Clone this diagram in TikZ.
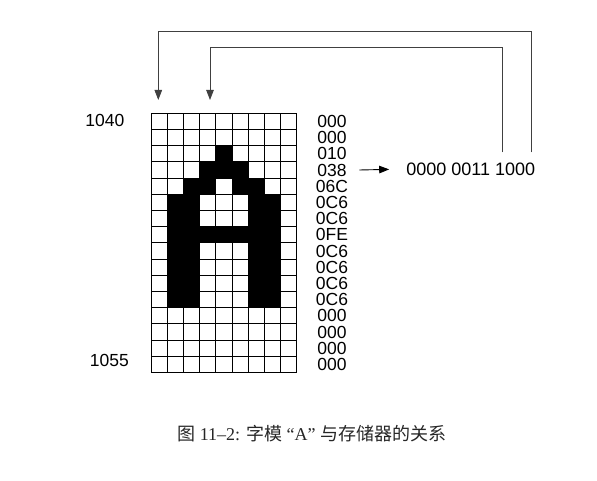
\documentclass[tikz,border=0pt]{standalone}
\usepackage{fontspec}
\setmainfont{Liberation Serif}
\newfontfamily\helv{Liberation Sans}
\newfontfamily\cjk{Noto Sans CJK SC}
\usepackage{tikz}
\usetikzlibrary{arrows.meta, positioning, calc}

\begin{document}
\begin{tikzpicture}[x=1pt, y=1pt]
\tikzstyle{hex} = [inner sep=0pt, font=\helv\fontsize{17.5}{18}\selectfont]
\tikzstyle{addr} = [inner sep=0pt, anchor=east, font=\helv\fontsize{17.5}{18}\selectfont]
\tikzstyle{arrow} = [line width=0.9pt, -{Triangle[length=10pt, width=7.5pt]}]
\tikzstyle{link} = [line width=0.9pt, draw=black!75, -{Triangle[length=10pt, width=7.5pt]}]
\tikzstyle{gridline} = [line width=1pt, draw=black]
\useasboundingbox (0,0) rectangle (597,480);

% Glyph pixels
\foreach \r/\c in {2/4, 3/3, 3/4, 3/5, 4/2, 4/3, 4/5, 4/6,
  5/1, 5/2, 5/6, 5/7, 6/1, 6/2, 6/6, 6/7,
  7/1, 7/2, 7/3, 7/4, 7/5, 7/6, 7/7,
  8/1, 8/2, 8/6, 8/7, 9/1, 9/2, 9/6, 9/7,
  10/1, 10/2, 10/6, 10/7, 11/1, 11/2, 11/6, 11/7}
  \fill ({151+\c*16.2},{366.7-\r*16.2}) rectangle ++(16.2,-16.2);

% Grid
\draw[gridline, shift={(151,107.5)}] (0,0) grid[step=16.2pt] (145.8,259.2);

% Addresses
\node[addr] (first) at (124.5,359.3) {1040};
\node[addr] (last) at (129,119.3) {1055};

% Row values
\foreach \v [count=\i from 0] in {000,000,010,038,06C,0C6,0C6,0FE,0C6,0C6,0C6,0C6,000,000,000,000}
  \node[hex] (h\i) at (332,{358.6-\i*16.2}) {\v};

% Binary value
\node[hex, font=\helv\fontsize{18}{18}\selectfont] (word) at (470.8,311) {0000 0011 1000};
\draw[arrow, shorten >=17pt] ([xshift=12.6pt]h3.east) -- (word.west);

% Feedback lines
\coordinate (tipA) at (158.3,380);
\coordinate (tipB) at (210,380);
\coordinate (outA) at ($(word.north east)+(-4,10)$);
\coordinate (outB) at ($(word.north east)+(-33.4,10)$);
\draw[link] (outA) -- ++(0,121.3) -| (tipA);
\draw[link] (outB) -- ++(0,104.7) -| (tipB);

% Caption
\node[inner sep=0pt, text=black!85, font=\fontsize{18}{20}\selectfont] (caption) at (311.7,46)
  {{\cjk 图} 11–2: {\cjk 字模} “A” {\cjk 与存储器的关系}};
\end{tikzpicture}
\end{document}
